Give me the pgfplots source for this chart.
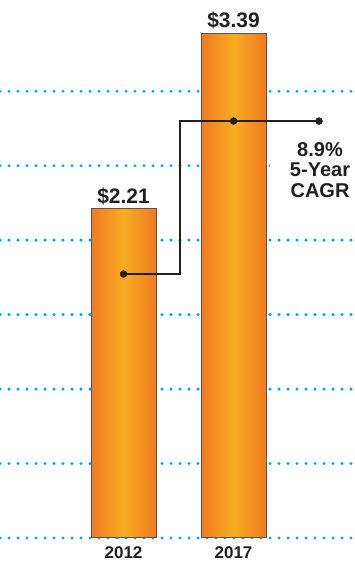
\documentclass[border=0pt]{standalone}
\usepackage{pgfplots}
\pgfplotsset{compat=1.18}
\usepackage{fontspec}
\setmainfont{Liberation Sans}
\definecolor{gridc}{RGB}{0,170,235}
\definecolor{bardark}{RGB}{240,122,32}
\definecolor{barlight}{RGB}{248,172,34}
\definecolor{txt}{RGB}{35,31,32}
\definecolor{edge}{RGB}{85,85,85}
\begin{document}
\begin{tikzpicture}
\useasboundingbox (0pt,-25pt) rectangle (354pt,538pt);
\begin{axis}[
  at={(0pt,0pt)}, anchor=south west,
  scale only axis, width=354pt, height=538pt,
  xmin=-1.123, xmax=2.095, ymin=0, ymax=3.613,
  axis line style={draw=none},
  major tick length=0pt,
  xtick={0,1}, xticklabels={2012,2017},
  xticklabel style={font=\fontsize{17}{20}\selectfont\bfseries, text=txt, yshift=-5pt},
  ytick={0,0.5,...,3.0}, yticklabels={},
  ymajorgrids,
  major grid style={draw=gridc, line width=3.4pt, line cap=round, dash pattern=on 0pt off 9pt},
  clip=false,
  barstyle/.style={ybar, bar width=65pt, draw=edge, line width=1pt,
    left color=bardark, right color=bardark, middle color=barlight,
    point meta=explicit symbolic,
    nodes near coords,
    every node near coord/.append style={font=\fontsize{21}{24}\selectfont\bfseries, text=txt}},
]
\addplot[barstyle] coordinates {(0,2.21) [\$2.21]};
\addplot[barstyle] coordinates {(1,3.39) [\$3.39]};
\addplot[txt, line width=1.2pt, mark=none, sharp plot]
  coordinates {(0,1.773) (0.514,1.773) (0.514,2.80) (1.777,2.80)};
\addplot[only marks, mark=*, mark size=3.5pt, mark options={fill=txt, draw=txt}]
  coordinates {(0,1.773) (1,2.80) (1.777,2.80)};
\node[anchor=north, align=center, fill=white, inner xsep=20pt, inner ysep=1pt, yshift=-20pt, xshift=1pt, text=txt,
  font=\fontsize{20}{20.5}\selectfont\bfseries] at (axis cs:1.777,2.80) {8.9\%\\5-Year\\CAGR};
\end{axis}
\end{tikzpicture}
\end{document}
